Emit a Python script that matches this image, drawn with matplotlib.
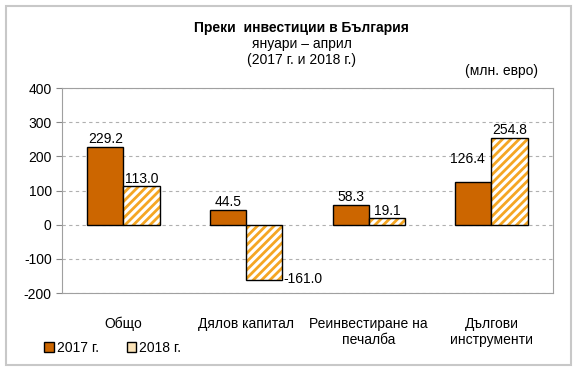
import numpy as np
import matplotlib.pyplot as plt
from matplotlib.patches import Rectangle, Patch

plt.rcParams["font.family"] = ["Liberation Sans", "DejaVu Sans"]
plt.rcParams["axes.unicode_minus"] = False
plt.rcParams["hatch.linewidth"] = 2.0

kategorien = ["Общо", "Дялов капитал", "Реинвестиране на\nпечалба", "Дългови\nинструменти"]
werte_2017 = [229.2, 44.5, 58.3, 126.4]
werte_2018 = [113.0, -161.0, 19.1, 254.8]

fig = plt.figure(figsize=(5.8, 3.72), dpi=100)
fig.patches.append(Rectangle((0.01, 0.018), 0.975, 0.965, transform=fig.transFigure,
                             fill=False, edgecolor="#c8c8c8", linewidth=1.5))

ax = fig.add_axes([0.107, 0.212, 0.846, 0.551])
x = np.arange(len(kategorien))
b = 0.295
orange = "#F5A623"
fs = 10

ax.bar(x - b / 2, werte_2017, b, color="#CC6600", edgecolor="black", linewidth=1.0, zorder=3)
# hatch in orange, then black outline on top
ax.bar(x + b / 2, werte_2018, b, color="white", edgecolor=orange, linewidth=0,
       hatch="////", zorder=3)
ax.bar(x + b / 2, werte_2018, b, fill=False, edgecolor="black", linewidth=1.0, zorder=4)

ax.set_xlim(-0.5, 3.5)
ax.set_ylim(-200, 400)
ax.set_yticks(np.arange(-200, 401, 100))
ax.set_xticks(x)
ax.set_xticklabels(kategorien, fontsize=fs)
ax.tick_params(axis="x", length=0, pad=17)
ax.tick_params(axis="y", labelsize=fs, length=4, color="#888888")
ax.grid(axis="y", linestyle=(0, (3, 3)), color="#b0b0b0", linewidth=0.8, zorder=0)
for s in ax.spines.values():
    s.set_color("#a0a0a0")

for i, v in enumerate(werte_2017):
    if i == 3:
        ax.text(x[i] - b / 2 - 0.05, v + 45, f"{v:.1f}", ha="center", va="bottom", fontsize=fs)
    else:
        ax.text(x[i] - b / 2, v + 2, f"{v:.1f}", ha="center", va="bottom", fontsize=fs)
for i, v in enumerate(werte_2018):
    if v < 0:
        ax.text(x[i] + b + 0.01, v + 2, f"{v:.1f}", ha="left", va="center", fontsize=fs)
    else:
        ax.text(x[i] + b / 2, v + 2, f"{v:.1f}", ha="center", va="bottom", fontsize=fs)

fig.text(0.52, 0.925, "Преки  инвестиции в България", ha="center", va="center",
         fontsize=fs, fontweight="bold")
fig.text(0.52, 0.882, "януари – април", ha="center", va="center", fontsize=fs)
fig.text(0.52, 0.838, "(2017 г. и 2018 г.)", ha="center", va="center", fontsize=fs)
fig.text(0.865, 0.81, "(млн. евро)", ha="center", va="center", fontsize=fs)

handles = [Patch(facecolor="#CC6600", edgecolor="black", label="2017 г."),
           Patch(facecolor="#FBE3B8", edgecolor="black", label="2018 г.")]
fig.legend(handles=handles, loc="center left", bbox_to_anchor=(0.055, 0.064), ncol=2,
           frameon=False, fontsize=fs, handlelength=0.7, handleheight=0.7,
           handletextpad=0.2, columnspacing=2.0)

plt.savefig("out.png", dpi=100)
